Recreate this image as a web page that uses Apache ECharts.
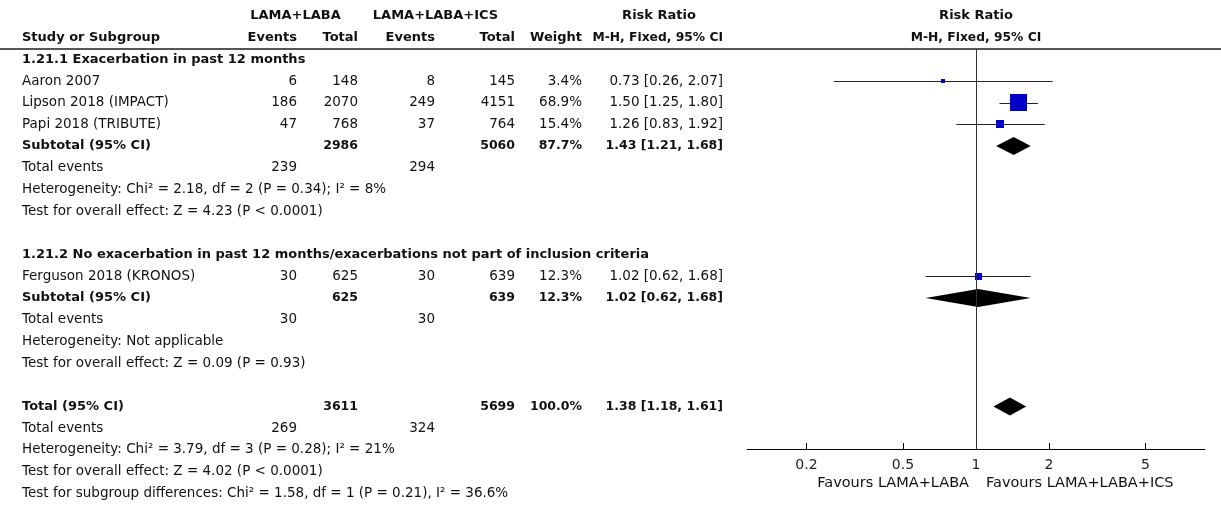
<!DOCTYPE html>
<html><head><meta charset="utf-8">
<script src="https://cdn.jsdelivr.net/npm/echarts@6/dist/echarts.min.js"></script>
<style>html,body{margin:0;padding:0;background:#fff}#c{width:1221px;height:507px}</style>
</head><body><div id="c"></div>
<script>
// ---------------- data ----------------
const studyNames = ['Aaron 2007', 'Lipson 2018 (IMPACT)', 'Papi 2018 (TRIBUTE)', 'Ferguson 2018 (KRONOS)'];
const studyRows = [1, 2, 3, 10];
const eventsA = [6, 186, 47, 30];
const totalA = [148, 2070, 768, 625];
const eventsB = [8, 249, 37, 30];
const totalB = [145, 4151, 764, 639];
const weights = [3.4, 68.9, 15.4, 12.3];
const rr = [0.73, 1.50, 1.26, 1.02];
const rrLo = [0.26, 1.25, 0.83, 0.62];
const rrHi = [2.07, 1.80, 1.92, 1.68];

const pooledNames = ['Subtotal (95% CI)', 'Subtotal (95% CI)', 'Total (95% CI)'];
const pooledRows = [4, 11, 16];
const pooledTotalA = [2986, 625, 3611];
const pooledTotalB = [5060, 639, 5699];
const pooledWeight = [87.7, 12.3, 100.0];
const pooledRR = [1.43, 1.02, 1.38];
const pooledLo = [1.21, 0.62, 1.18];
const pooledHi = [1.68, 1.68, 1.61];

const totalEventsRows = [5, 12, 17];
const totalEventsA = [239, 30, 269];
const totalEventsB = [294, 30, 324];

const headingRows = [0, 9];
const headingTexts = ['1.21.1 Exacerbation in past 12 months',
  '1.21.2 No exacerbation in past 12 months/exacerbations not part of inclusion criteria'];

const noteRows = [6, 7, 13, 14, 18, 19, 20];
const noteTexts = [
  'Heterogeneity: Chi\u00B2 = 2.18, df = 2 (P = 0.34); I\u00B2 = 8%',
  'Test for overall effect: Z = 4.23 (P < 0.0001)',
  'Heterogeneity: Not applicable',
  'Test for overall effect: Z = 0.09 (P = 0.93)',
  'Heterogeneity: Chi\u00B2 = 3.79, df = 3 (P = 0.28); I\u00B2 = 21%',
  'Test for overall effect: Z = 4.02 (P < 0.0001)',
  'Test for subgroup differences: Chi\u00B2 = 1.58, df = 1 (P = 0.21), I\u00B2 = 36.6%'
];

const tickValues = [0.2, 0.5, 1, 2, 5];
const favoursLeft = 'Favours LAMA+LABA';
const favoursRight = 'Favours LAMA+LABA+ICS';

// ---------------- layout / style ----------------
const FONT = 'DejaVu Sans';
const STY = {
  r: {fontFamily: FONT, fontSize: 13.5, fontWeight: 'normal'},   // regular table text
  b: {fontFamily: FONT, fontSize: 13, fontWeight: 'bold'},       // bold labels
  h: {fontFamily: FONT, fontSize: 12.3, fontWeight: 'bold'},     // method header
  n: {fontFamily: FONT, fontSize: 12.5, fontWeight: 'bold'},     // bold numbers
  a: {fontFamily: FONT, fontSize: 14.5, fontWeight: 'normal'}    // axis / favours
};
const TXT = '#111';
const ROW0 = 59.3, ROWH = 21.7;        // pixel of row 0 and row height
const PLOT_TOP = 49, AXIS_Y = 449;     // header rule and x-axis line
const COL = {study: 22, evA: 297, totA: 358, evB: 435, totB: 515, w: 582, ci: 723};
const BLUE = '#0000C8';
const lg = v => Math.log10(v);

const chart = echarts.init(document.getElementById('c'), null, {renderer: 'canvas'});

const studyData = rr.map((v, i) => [lg(v), lg(rrLo[i]), lg(rrHi[i]), studyRows[i], weights[i]]);
const pooledData = pooledRR.map((v, i) => [lg(v), lg(pooledLo[i]), lg(pooledHi[i]), pooledRows[i]]);
const maxW = Math.max(...weights);

chart.setOption({
  animation: false,
  grid: {left: 747, right: 16, top: PLOT_TOP, bottom: 507 - AXIS_Y, containLabel: false},
  xAxis: {
    type: 'value', min: -0.944, max: 0.944, position: 'bottom',
    axisLine: {show: true, onZero: false, lineStyle: {color: '#000', width: 1}},
    axisTick: {show: true, inside: true, length: 6, lineStyle: {color: '#000'}, customValues: tickValues.map(lg)},
    axisLabel: {show: true, customValues: tickValues.map(lg), margin: 9, color: '#222', fontFamily: FONT, fontSize: 14,
      formatter: v => String(Number(Math.pow(10, v).toPrecision(2)))},
    splitLine: {show: false}
  },
  yAxis: {
    type: 'value', inverse: true,
    min: (PLOT_TOP - ROW0) / ROWH, max: (AXIS_Y - ROW0) / ROWH,
    show: false, splitLine: {show: false}
  },
  series: [
    {
      type: 'custom', data: studyData, clip: false,
      renderItem(params, api) {
        const row = api.value(3);
        const c = api.coord([api.value(0), row]);
        const l = api.coord([api.value(1), row]);
        const h = api.coord([api.value(2), row]);
        const y = Math.round(c[1]) + 0.5;
        const s = Math.max(4, Math.round(17 * Math.sqrt(api.value(4) / maxW)));
        return {type: 'group', children: [
          {type: 'line', shape: {x1: l[0], y1: y, x2: h[0], y2: y}, style: {stroke: '#222', lineWidth: 1}},
          {type: 'rect', shape: {x: Math.round(c[0] - s / 2), y: Math.round(c[1] - s / 2), width: s, height: s}, style: {fill: BLUE}}
        ]};
      },
      markLine: {silent: true, symbol: 'none', label: {show: false},
        lineStyle: {color: '#333', width: 1, type: 'solid'}, data: [{xAxis: 0}]}
    },
    {
      type: 'custom', data: pooledData, clip: false,
      renderItem(params, api) {
        const row = api.value(3);
        const c = api.coord([api.value(0), row]);
        const l = api.coord([api.value(1), row]);
        const h = api.coord([api.value(2), row]);
        const hh = 9;
        return {type: 'polygon', shape: {points: [[l[0], c[1]], [c[0], c[1] - hh], [h[0], c[1]], [c[0], c[1] + hh]]},
          style: {fill: '#000'}};
      }
    }
  ]
});

// ---------------- table text ----------------
const yOf = row => chart.convertToPixel({yAxisIndex: 0}, row);
const xOf = v => chart.convertToPixel({xAxisIndex: 0}, v);
const g = [];
function txt(x, y, s, align, kind) {
  const st = STY[kind || 'r'];
  g.push({type: 'text', x: x, y: y, silent: true,
    style: Object.assign({text: s, fill: TXT, textAlign: align || 'left', textVerticalAlign: 'middle'}, st)});
}
const f2 = v => v.toFixed(2);
const ciStr = (a, b, c) => f2(a) + ' [' + f2(b) + ', ' + f2(c) + ']';

// headers
txt((248 + 343) / 2, 16, 'LAMA+LABA', 'center', 'b');
txt((369 + 502) / 2, 16, 'LAMA+LABA+ICS', 'center', 'b');
txt(659, 16, 'Risk Ratio', 'center', 'b');
txt(xOf(0), 16, 'Risk Ratio', 'center', 'b');
txt(COL.study, 38, 'Study or Subgroup', 'left', 'b');
txt(COL.evA, 38, 'Events', 'right', 'b');
txt(COL.totA, 38, 'Total', 'right', 'b');
txt(COL.evB, 38, 'Events', 'right', 'b');
txt(COL.totB, 38, 'Total', 'right', 'b');
txt(COL.w, 38, 'Weight', 'right', 'b');
txt(COL.ci, 38, 'M-H, Fixed, 95% CI', 'right', 'h');
txt(xOf(0), 38, 'M-H, Fixed, 95% CI', 'center', 'h');
g.push({type: 'line', silent: true, shape: {x1: 0, y1: PLOT_TOP, x2: 1221, y2: PLOT_TOP}, style: {stroke: '#555', lineWidth: 2}});

headingRows.forEach((r, i) => txt(COL.study, yOf(r), headingTexts[i], 'left', 'b'));
studyNames.forEach((n, i) => {
  const y = yOf(studyRows[i]);
  txt(COL.study, y, n);
  txt(COL.evA, y, String(eventsA[i]), 'right');
  txt(COL.totA, y, String(totalA[i]), 'right');
  txt(COL.evB, y, String(eventsB[i]), 'right');
  txt(COL.totB, y, String(totalB[i]), 'right');
  txt(COL.w, y, weights[i].toFixed(1) + '%', 'right');
  txt(COL.ci, y, ciStr(rr[i], rrLo[i], rrHi[i]), 'right');
});
pooledNames.forEach((n, i) => {
  const y = yOf(pooledRows[i]);
  txt(COL.study, y, n, 'left', 'b');
  txt(COL.totA, y, String(pooledTotalA[i]), 'right', 'n');
  txt(COL.totB, y, String(pooledTotalB[i]), 'right', 'n');
  txt(COL.w, y, pooledWeight[i].toFixed(1) + '%', 'right', 'n');
  txt(COL.ci, y, ciStr(pooledRR[i], pooledLo[i], pooledHi[i]), 'right', 'n');
});
totalEventsRows.forEach((r, i) => {
  const y = yOf(r);
  txt(COL.study, y, 'Total events');
  txt(COL.evA, y, String(totalEventsA[i]), 'right');
  txt(COL.evB, y, String(totalEventsB[i]), 'right');
});
noteRows.forEach((r, i) => txt(COL.study, yOf(r), noteTexts[i]));

txt(xOf(0) - 7, 483, favoursLeft, 'right', 'a');
txt(xOf(0) + 10, 483, favoursRight, 'left', 'a');

chart.setOption({graphic: {elements: g}});
</script>
</body></html>
